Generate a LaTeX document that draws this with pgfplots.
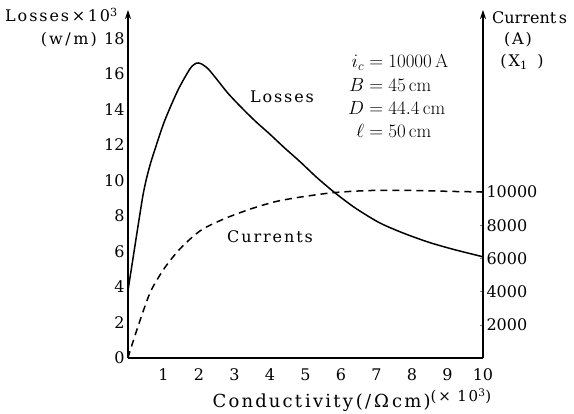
\RequirePackage{fix-cm}
\documentclass[border=0pt]{standalone}
\usepackage{fontspec}
\usepackage{pgfplots}
\pgfplotsset{compat=1.18}
\usetikzlibrary{arrows.meta}
\newfontfamily\dvs{DejaVu Serif}
\newfontfamily\dvsw{DejaVu Serif}[LetterSpace=12]
\newcommand\lab{\dvs\fontsize{16}{19}\selectfont}
\newcommand\wlab{\dvsw\fontsize{16}{19}\selectfont}

\begin{document}
\begin{tikzpicture}
\useasboundingbox (-128pt,-56pt) rectangle (446pt,358pt);
% losses, left axis
\begin{axis}[
    at={(0pt,0pt)}, anchor=south west,
    scale only axis, width=355pt, height=348pt,
    xmin=0, xmax=10, ymin=0, ymax=19.6,
    axis x line*=bottom, axis y line*=left,
    axis line style={line width=1.1pt},
    y axis line style={-{Stealth[length=9pt,width=6pt]}},
    xtick={1,...,10}, ytick={0,2,...,18},
    major tick length=0pt,
    /pgf/number format/assume math mode=true,
    ticklabel style={font=\lab},
    xticklabel style={yshift=-7pt},
    clip=false,
]
\addplot[black, line width=1.5pt, smooth, tension=0.45] coordinates {
    (0,3.8)(0.14,5.6)(0.28,7.4)(0.42,9.15)(0.52,10.1)(0.64,11.0)(0.8,12.0)
    (1.04,13.4)(1.41,15.1)(1.75,16.3)(1.92,16.6)(2.05,16.58)(2.25,16.3)
    (2.5,15.7)(2.82,14.9)(3.2,14.1)(3.58,13.35)(4.0,12.6)(4.4,11.85)
    (4.85,11.05)(5.3,10.2)(5.8,9.35)(6.4,8.45)(7.1,7.6)(7.8,7.0)(8.5,6.5)
    (9.2,6.1)(10,5.7)
};
\end{axis}
% currents, right axis
\begin{axis}[
    at={(0pt,0pt)}, anchor=south west,
    scale only axis, width=355pt, height=348pt,
    xmin=0, xmax=10, ymin=0, ymax=20962,
    axis x line=none, axis y line*=right,
    axis line style={line width=1.1pt},
    y axis line style={-{Stealth[length=9pt,width=6pt]}},
    ytick={2000,4000,...,10000},
    scaled y ticks=false,
    yticklabel style={/pgf/number format/1000 sep={}},
    tick align=inside, major tick length=3pt,
    /pgf/number format/assume math mode=true,
    ticklabel style={font=\lab},
    clip=false,
]
\addplot[black, line width=1.5pt, dash pattern=on 7pt off 5pt, smooth, tension=0.5] coordinates {
    (0,0)(0.09,640)(0.37,2460)(0.65,4060)(1.04,5450)(1.49,6630)(2.06,7700)
    (2.73,8400)(3.46,8980)(4.14,9410)(4.73,9650)(5.2,9800)(5.74,9950)
    (6.4,10050)(7.06,10100)(7.8,10100)(8.46,10070)(9.2,10030)(10,10000)
};
\end{axis}
% labels
\node[anchor=west, font=\wlab, inner sep=0pt] at (-123pt,343pt) {Losses\,×\,10\textsuperscript{3}};
\node[anchor=east, font=\wlab, inner sep=0pt] at (-31pt,318pt) {(w\,/\,m)};
\node[anchor=west, font=\lab, inner sep=0pt] at (364pt,340pt) {Current\,s};
\node[font=\wlab, inner sep=0pt] at (390pt,318pt) {(A)};
\node[font=\wlab, inner sep=0pt] at (394pt,296pt) {(X\textsubscript{1}\ \,)};
\node[anchor=west, inner sep=0pt, font=\fontsize{19}{23.3}\selectfont] at (220pt,260pt) {%
  \begin{tabular}{@{}r@{}l@{}}
  $i_c$ & ${}= 10000$\,A\\
  $B$ & ${}= 45$\,cm\\
  $D$ & ${}= 44.4$\,cm\\
  $\ell$ & ${}= 50$\,cm
  \end{tabular}};
\node[font=\wlab, inner sep=0pt] at (154pt,261pt) {Losses};
\node[font=\wlab, inner sep=0pt] at (142pt,121pt) {Currents};
\node[font=\dvsw\fontsize{18}{21}\selectfont, inner sep=0pt] at (224pt,-42pt) {Conduct\,ivity\,(/\,Ω\,cm)\raisebox{6pt}{\fontsize{15}{17}\selectfont(×\ 10\textsuperscript{3})}};
\end{tikzpicture}
\end{document}
